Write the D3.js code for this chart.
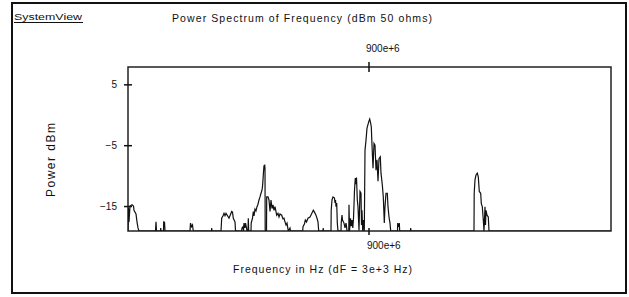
<!DOCTYPE html>
<html>
<head>
<meta charset="utf-8">
<script src="https://cdn.jsdelivr.net/npm/d3@7"></script>
<style>
  body { margin: 0; background: #fff; }
  svg text { font-family: "Liberation Sans", Arial, sans-serif; fill: #111; }
</style>
</head>
<body>
<svg id="chart" width="629" height="297"></svg>
<script>
// frequency offset from 900e+6 Hz, in kHz (dF = 3e+3 Hz)
const freqOffsetKHz = [
  -240.5, -240, -239.5, -238.5, -236.5, -235, -234.5, -232.5, -231.5, -230.5, -229.5,
  -213, -212.5, -212,
  -208, -207.8, -207.5,
  -205, -204.8, -204.3, -204, -203.5,
  -178.5, -178, -177, -176, -175.5, -175,
  -157, -156.8, -156.5,
  -147.5, -146.8, -145.2, -144.5, -143.5, -142.5, -140.2, -139.5, -136.8, -136, -135.2, -133.5, -133, -132,
  -127, -126.5, -125.5, -125, -124.5, -123.5, -123, -122, -121.5, -120.5, -120.2, -119.8,
  -117.5, -117.3, -116, -115.2, -114.5, -113.5, -112.5, -111.5, -110.5, -109.5, -108.5, -107.5, -106.5, -106, -105.5, -105, -104.5, -103.8, -103.5, -103.3,
  -102, -101.8, -100.5, -99.5, -98.5, -97.5, -96.5, -95.5, -94.5, -93.5, -91.8, -90.5, -89.5, -88.5, -86.8, -85.5, -84.5, -83.5, -82.5, -81.5, -80.2, -78.5, -78,
  -65.8, -65.5, -64, -63.2, -62, -60.5, -58.5, -57, -55.2, -54, -52.5, -51.5, -50.5, -49.8,
  -45.5, -45.3, -45,
  -37.5, -37.3, -36.5, -35.5, -34, -33.5, -33, -32.5, -31.8, -31.2, -30.5,
  -27.5, -27.3, -26.5, -26, -24.5, -23.5, -22.5, -22, -21.5,
  -19.7, -19.5, -19, -18, -17.3, -16.5, -15.7, -15, -14.5, -14, -13.2, -12.5, -12, -11.2, -10.5, -9.5, -8.5, -7.5, -7, -6.5, -5.8, -5, -4.2,
  -3.5, -2.5, -1.5, -0.2, 0.5, 1.2, 2.2, 2.8, 3.5, 4.5, 5.5, 6.5, 7.5, 8.5, 9.5, 10.5, 11.8, 12.5, 13.8, 14.8, 15.8, 16.5, 17.5, 18.8, 19.5, 20.5, 21.5, 22.2,
  29, 29.2, 30.2, 30.8, 31.2,
  42, 42.2, 42.5,
  105.5, 105.7, 106.5, 107.5, 108.8, 109.8, 110.8, 112.2, 112.8, 113.8, 114.8, 115.5, 116.5, 117, 117.5, 118.5, 119.8, 120.5,
  242.5
];
const powerDbm = [
  -19.1, -15.3, -17.6, -15.0, -14.8, -15.0, -15.7, -16.3, -17.6, -18.6, -19.1,
  -19.1, -17.6, -19.1,
  -19.1, -18.6, -19.1,
  -19.1, -17.5, -18.1, -17.6, -19.1,
  -19.1, -17.8, -18.4, -18.1, -18.8, -19.1,
  -19.1, -18.6, -19.1,
  -19.1, -17.0, -16.5, -16.2, -16.6, -16.2, -16.8, -17.0, -15.9, -16.0, -17.0, -17.6, -19.0, -19.1,
  -19.1, -18.6, -18.4, -19.1, -17.8, -18.6, -17.8, -18.6, -19.1, -19.1, -17.0, -19.1,
  -19.1, -17.8, -17.0, -15.9, -16.6, -15.5, -15.8, -15.1, -14.7, -14.0, -13.5, -12.9, -12.4, -11.8, -10.7, -9.4, -8.4, -8.3, -8.8, -19.1,
  -19.1, -13.5, -13.5, -14.0, -15.9, -14.0, -15.4, -14.8, -15.7, -15.1, -16.5, -16.2, -16.8, -16.3, -16.5, -17.1, -17.0, -17.6, -18.1, -17.8, -19.1, -18.6, -19.1,
  -19.1, -18.4, -17.9, -17.3, -17.6, -17.0, -16.8, -16.3, -15.7, -16.0, -16.5, -17.0, -17.6, -19.1,
  -19.1, -18.6, -19.1,
  -19.1, -15.7, -14.0, -13.5, -13.7, -14.5, -14.0, -15.1, -14.5, -17.8, -19.1,
  -19.1, -17.8, -16.5, -17.3, -17.8, -18.6, -17.8, -18.3, -19.1,
  -19.1, -14.8, -19.1, -17.0, -18.3, -17.3, -18.6, -17.0, -14.8, -12.4, -10.4, -11.4, -10.3, -14.0, -15.1, -19.0, -12.6, -12.9, -18.1, -15.7, -19.1, -17.3, -19.1,
  -5.8, -4.2, -2.2, -1.4, -1.0, -0.7, -1.4, -2.0, -5.0, -8.8, -4.7, -5.0, -9.1, -7.4, -10.9, -7.2, -6.9, -9.6, -11.5, -13.5, -17.8, -15.1, -12.9, -12.9, -15.1, -16.8, -17.8, -19.1,
  -19.1, -17.8, -18.4, -17.8, -19.1,
  -19.1, -18.6, -19.1,
  -19.1, -12.9, -10.7, -9.9, -9.6, -10.2, -12.6, -12.9, -14.6, -15.1, -17.3, -19.1, -15.1, -18.1, -15.7, -16.5, -16.8, -19.1,
  -19.1
];
const yTicks = [5, -5, -15];
const xTicks = [0];
const xTickLabels = ['900e+6'];

const svg = d3.select('#chart');
const plot = { left: 128, right: 611, top: 67, bottom: 231 };

const x = d3.scaleLinear().domain([-240.5, 242.5]).range([plot.left, plot.right]);
const y = d3.scaleLinear().domain([-19.1, 7.85]).range([plot.bottom, plot.top]);

const data = freqOffsetKHz.map((f, i) => ({ f: f, p: powerDbm[i] }));
const fontFamily = '"Liberation Sans", Arial, sans-serif';

// outer frame
svg.append('rect')
  .attr('x', 12).attr('y', 3).attr('width', 614).attr('height', 290)
  .attr('fill', 'none').attr('stroke', '#111').attr('stroke-width', 2);

// header
svg.append('text')
  .attr('x', 14).attr('y', 20)
  .attr('font-size', 8.5)
  .attr('textLength', 68).attr('lengthAdjust', 'spacingAndGlyphs')
  .text('SystemView');
svg.append('line')
  .attr('x1', 14).attr('x2', 83).attr('y1', 22.5).attr('y2', 22.5)
  .attr('stroke', '#111').attr('stroke-width', 1);

svg.append('text')
  .attr('x', 172).attr('y', 22)
  .attr('font-size', 10.5)
  .attr('textLength', 260).attr('lengthAdjust', 'spacing')
  .text('Power Spectrum of Frequency (dBm 50 ohms)');

// plot box
svg.append('rect')
  .attr('x', plot.left).attr('y', plot.top)
  .attr('width', plot.right - plot.left).attr('height', plot.bottom - plot.top)
  .attr('fill', 'none').attr('stroke', '#222').attr('stroke-width', 1.5);

// y axis
const yAxis = svg.append('g')
  .attr('transform', `translate(${plot.left},0)`)
  .call(d3.axisLeft(y).tickValues(yTicks).tickSize(4).tickPadding(7).tickFormat(d3.format('d')));
yAxis.select('.domain').remove();
yAxis.selectAll('.tick line').attr('x1', 4).attr('stroke', '#111').attr('stroke-width', 1.5);
yAxis.selectAll('.tick text').attr('font-size', 10).attr('font-family', fontFamily).attr('fill', '#111');

// top axis
const topAxis = svg.append('g')
  .attr('transform', `translate(0,${plot.top})`)
  .call(d3.axisTop(x).tickValues(xTicks).tickSize(5).tickFormat((d, i) => xTickLabels[i]));
topAxis.select('.domain').remove();
topAxis.selectAll('.tick line').attr('y1', 5).attr('stroke', '#111').attr('stroke-width', 1.5);
topAxis.selectAll('.tick text')
  .attr('text-anchor', 'start').attr('x', -3).attr('y', -15)
  .attr('font-size', 10).attr('font-family', fontFamily).attr('fill', '#111');

// bottom axis
const bottomAxis = svg.append('g')
  .attr('transform', `translate(0,${plot.bottom})`)
  .call(d3.axisBottom(x).tickValues(xTicks).tickSize(4).tickFormat((d, i) => xTickLabels[i]));
bottomAxis.select('.domain').remove();
bottomAxis.selectAll('.tick line').attr('y1', -3).attr('stroke', '#111').attr('stroke-width', 1.5);
bottomAxis.selectAll('.tick text')
  .attr('text-anchor', 'start').attr('x', -2).attr('y', 11)
  .attr('font-size', 10).attr('font-family', fontFamily).attr('fill', '#111');

// spectrum trace
svg.append('clipPath').attr('id', 'clip')
  .append('rect').attr('x', plot.left).attr('y', plot.top)
  .attr('width', plot.right - plot.left).attr('height', plot.bottom - plot.top);

const line = d3.line()
  .x((d) => x(d.f))
  .y((d) => y(d.p));

svg.append('path')
  .datum(data)
  .attr('clip-path', 'url(#clip)')
  .attr('fill', 'none')
  .attr('stroke', '#111')
  .attr('stroke-width', 1.2)
  .attr('d', line);

// axis titles
svg.append('text')
  .attr('x', 233).attr('y', 273)
  .attr('font-size', 10.5)
  .attr('textLength', 179).attr('lengthAdjust', 'spacing')
  .text('Frequency in Hz (dF = 3e+3 Hz)');

svg.append('text')
  .attr('transform', 'translate(55,197) rotate(-90)')
  .attr('font-size', 12)
  .attr('textLength', 74).attr('lengthAdjust', 'spacing')
  .text('Power dBm');
</script>
</body>
</html>
